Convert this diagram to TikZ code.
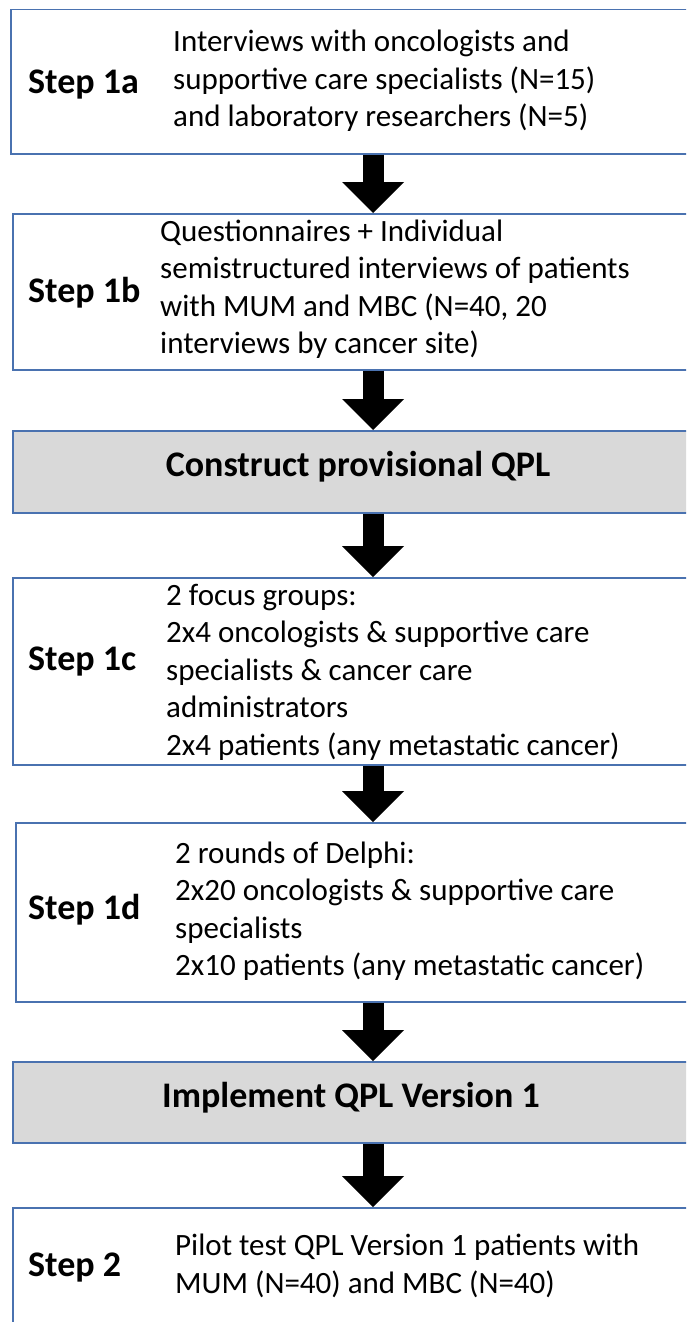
\documentclass[tikz,border=0pt]{standalone}
\usepackage{fontspec}
\setmainfont{Carlito}
\usepackage{xcolor}
\usepackage{tikz}
\usetikzlibrary{arrows.meta,positioning}
\definecolor{Edge}{HTML}{4A72B0}
\definecolor{Shade}{HTML}{D9D9D9}

\begin{document}
\begin{tikzpicture}[x=1pt,y=-1pt,
  box/.style={draw=Edge,line width=1.5pt,anchor=north west,minimum width=740pt,inner sep=0pt},
  stepname/.style={anchor=west,inner sep=0pt,font=\bfseries\fontsize{36}{43}\selectfont},
  body/.style={anchor=west,align=left,inner sep=0pt,font=\fontsize{31}{37.5}\selectfont},
  blk/.style={line width=21pt,-{Triangle[width=62pt,length=31pt,line width=0pt]}}]
  \useasboundingbox (0,0) rectangle (686,1322);
  \clip (0,0) rectangle (686,1322);
  \coordinate (ax) at (373,0);
  % step boxes
  \node[box,minimum height=144pt] (b1a) at (10,9) {};
  \node[stepname] (l1a) at (28,85) {Step 1a};
  \node[body] (t1a) at (173,81) {Interviews with oncologists and\\supportive care specialists (N=15)\\and laboratory researchers (N=5)};
  \node[box,minimum height=156pt] (b1b) at (12,213) {};
  \node[stepname] (l1b) at (28,293) {Step 1b};
  \node[body] (t1b) at (160,289) {Questionnaires + Individual\\semistructured interviews of patients\\with MUM and MBC (N=40, 20\\interviews by cancer site)};
  \node[box,fill=Shade,minimum height=82pt] (bqpl) at (12,430) {};
  \node[stepname,anchor=center] (lqpl) at (358,467) {Construct provisional QPL};
  \node[box,minimum height=187pt] (b1c) at (12,577) {};
  \node[stepname] (l1c) at (28,662) {Step 1c};
  \node[body] (t1c) at (166,672) {2 focus groups:\\2x4 oncologists \& supportive care\\specialists \& cancer care\\administrators\\2x4 patients (any metastatic cancer)};
  \node[box,minimum height=179pt] (b1d) at (15,822) {};
  \node[stepname] (l1d) at (28,910) {Step 1d};
  \node[body] (t1d) at (175,911) {2 rounds of Delphi:\\2x20 oncologists \& supportive care\\specialists\\2x10 patients (any metastatic cancer)};
  \node[box,fill=Shade,minimum height=81pt] (bver) at (12,1061) {};
  \node[stepname,anchor=center] (lver) at (351,1098) {Implement QPL Version 1};
  \node[box,minimum height=140pt] (b2) at (12,1207) {};
  \node[stepname] (l2) at (28,1268) {Step 2};
  \node[body] (t2) at (175,1266) {Pilot test QPL Version 1 patients with\\MUM (N=40) and MBC (N=40)};
  % block arrows
  \draw[blk] (b1a.south -| ax) -- (b1b.north -| ax);
  \draw[blk] (b1b.south -| ax) -- (bqpl.north -| ax);
  \draw[blk] (bqpl.south -| ax) -- (b1c.north -| ax);
  \draw[blk] (b1c.south -| ax) -- (b1d.north -| ax);
  \draw[blk] (b1d.south -| ax) -- (bver.north -| ax);
  \draw[blk] (bver.south -| ax) -- (b2.north -| ax);
\end{tikzpicture}
\end{document}
